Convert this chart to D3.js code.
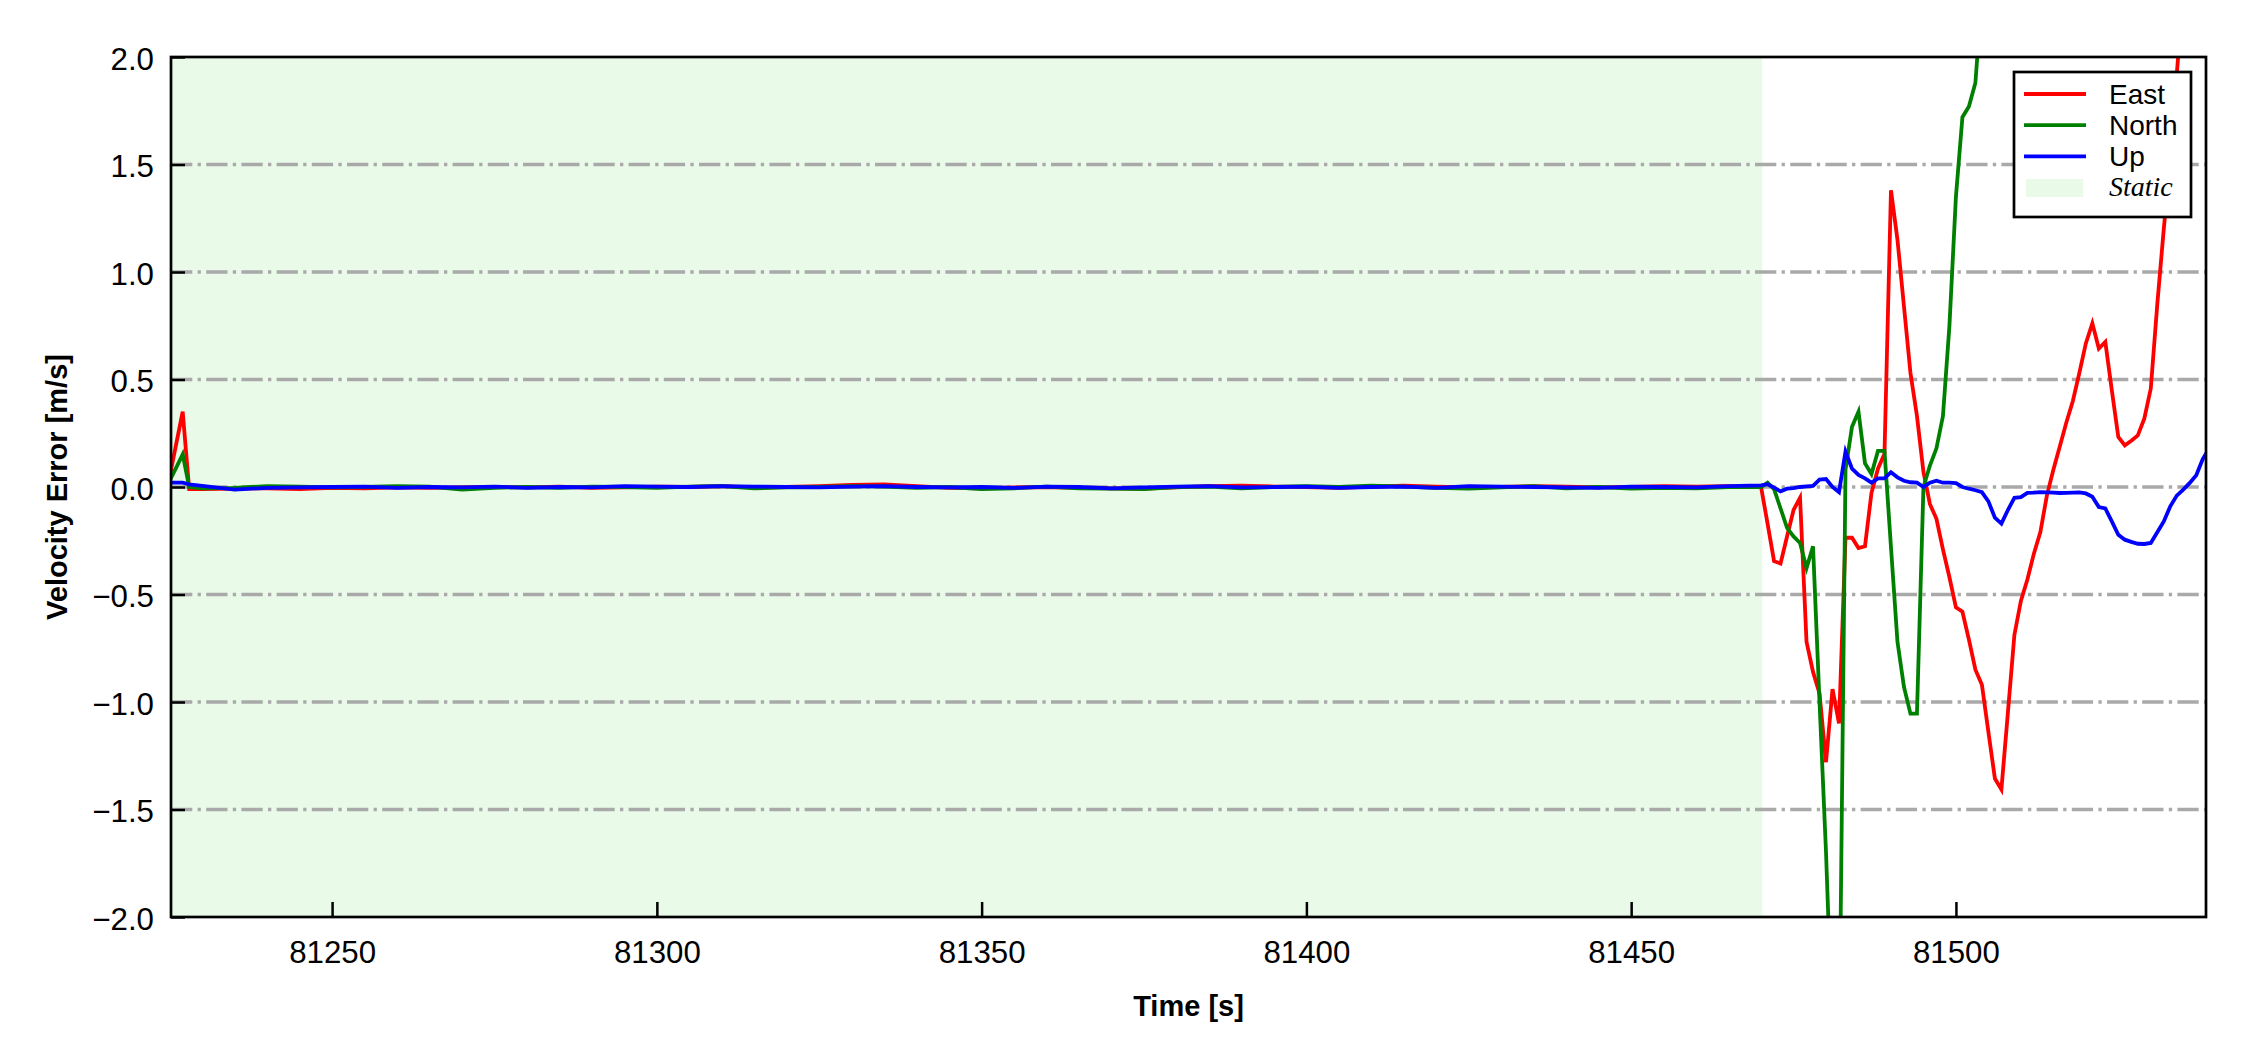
<!DOCTYPE html>
<html>
<head>
<meta charset="utf-8">
<script src="https://cdn.jsdelivr.net/npm/d3@7"></script>
<style>
  body { margin: 0; background: #fff; }
  text { font-family: "Liberation Sans", Arial, sans-serif; }
</style>
</head>
<body>
<div id="chart"></div>
<script>
// sample times [s]: start spike, static part every 5 s, then 1 Hz while moving
var time = [81225, 81226, 81227, 81228,
  81230, 81235, 81240, 81245, 81250, 81255, 81260, 81265, 81270, 81275,
  81280, 81285, 81290, 81295, 81300, 81305, 81310, 81315, 81320, 81325,
  81330, 81335, 81340, 81345, 81350, 81355, 81360, 81365, 81370, 81375,
  81380, 81385, 81390, 81395, 81400, 81405, 81410, 81415, 81420, 81425,
  81430, 81435, 81440, 81445, 81450, 81455, 81460, 81465,
  81470, 81471, 81472, 81473, 81474, 81475, 81476, 81477, 81478, 81479,
  81480, 81481, 81482, 81483, 81484, 81485, 81486, 81487, 81488, 81489,
  81490, 81491, 81492, 81493, 81494, 81495, 81496, 81497, 81498, 81499,
  81500, 81501, 81502, 81503, 81504, 81505, 81506, 81507, 81508, 81509,
  81510, 81511, 81512, 81513, 81514, 81515, 81516, 81517, 81518, 81519,
  81520, 81521, 81522, 81523, 81524, 81525, 81526, 81527, 81528, 81529,
  81530, 81531, 81532, 81533, 81534, 81535, 81536, 81537, 81538, 81539];

var east = [0.05, 0.20, 0.35, -0.01,
  -0.01, -0.008, -0.006, -0.01, -0.004, -0.006, -0.002, -0.004, -0.002, 0.0,
  -0.002, 0.002, -0.004, -0.002, 0.002, 0.0, 0.004, -0.002, 0.0, 0.004,
  0.01, 0.012, 0.004, -0.004, -0.006, -0.002, 0.0, -0.004, -0.006, -0.008,
  -0.002, 0.004, 0.006, 0.002, 0.0, -0.004, 0.002, 0.006, 0.002, -0.002,
  0.0, 0.004, 0.002, -0.002, 0.0, 0.004, 0.002, 0.004,
  0.0, -0.17, -0.345, -0.356, -0.23, -0.107, -0.05, -0.72, -0.86, -0.96,
  -1.28, -0.94, -1.10, -0.236, -0.236, -0.284, -0.276, -0.027, 0.085, 0.155,
  1.38, 1.15, 0.84, 0.53, 0.33, 0.07, -0.08, -0.148, -0.29, -0.42,
  -0.56, -0.58, -0.71, -0.85, -0.92, -1.14, -1.356, -1.407, -1.05, -0.688,
  -0.53, -0.43, -0.31, -0.21, -0.04, 0.08, 0.19, 0.30, 0.40, 0.53,
  0.668, 0.761, 0.644, 0.675, 0.45, 0.233, 0.194, 0.215, 0.24, 0.318,
  0.458, 0.85, 1.2, 1.52, 1.92, 2.3, null, null, null, null];

var north = [0.03, 0.09, 0.152, 0.0,
  -0.006, -0.004, 0.004, 0.002, -0.002, 0.0, 0.004, 0.002, -0.012, -0.004,
  0.0, -0.004, 0.002, 0.0, -0.004, 0.002, 0.004, -0.006, -0.002, 0.0,
  0.004, 0.002, -0.004, 0.0, -0.01, -0.006, 0.002, -0.006, -0.008, -0.01,
  0.0, 0.002, -0.006, 0.0, 0.004, 0.0, 0.006, 0.002, -0.004, -0.008,
  -0.002, 0.004, -0.006, 0.0, -0.008, -0.004, -0.006, 0.0,
  0.0, 0.02, -0.01, -0.10, -0.19, -0.23, -0.26, -0.377, -0.276, -1.0,
  -1.7, -2.56, -2.73, 0.08, 0.28, 0.35, 0.11, 0.06, 0.168, 0.168,
  -0.28, -0.72, -0.93, -1.054, -1.054, 0.0, 0.10, 0.18, 0.33, 0.75,
  1.35, 1.72, 1.77, 1.88, 2.3, null, null, null, null, null,
  null, null, null, null, null, null, null, null, null, null,
  null, null, null, null, null, null, null, null, null, null,
  null, null, null, null, null, null, null, null, null, null];

var up = [0.02, 0.02, 0.02, 0.012,
  0.005, -0.012, -0.004, -0.002, 0.0, 0.002, -0.004, 0.0, -0.002, 0.002,
  -0.004, 0.0, -0.002, 0.004, 0.002, 0.0, 0.004, 0.002, 0.0, -0.002,
  0.002, 0.004, 0.0, -0.002, 0.0, -0.004, 0.002, 0.0, -0.006, -0.002,
  0.002, 0.004, -0.002, 0.0, 0.002, -0.004, 0.0, 0.002, -0.004, 0.004,
  0.002, 0.0, -0.002, -0.004, 0.002, 0.0, -0.002, 0.004,
  0.008, 0.013, -0.003, -0.02, -0.008, -0.005, 0.0, 0.003, 0.005, 0.034,
  0.037, 0.0, -0.024, 0.165, 0.085, 0.056, 0.04, 0.02, 0.04, 0.04,
  0.069, 0.045, 0.029, 0.022, 0.02, 0.0, 0.02, 0.029, 0.02, 0.02,
  0.018, 0.0, -0.008, -0.015, -0.024, -0.067, -0.143, -0.17, -0.107, -0.05,
  -0.047, -0.027, -0.026, -0.024, -0.025, -0.026, -0.028, -0.027, -0.026, -0.025,
  -0.03, -0.045, -0.093, -0.10, -0.16, -0.222, -0.245, -0.255, -0.264, -0.265,
  -0.26, -0.21, -0.16, -0.09, -0.04, -0.012, 0.019, 0.055, 0.13, 0.18];

var seriesNames = ["East", "North", "Up"];
var seriesColors = ["#ff0000", "#008000", "#0000ff"];
var staticSpan = [81225.2, 81470.2];
var xDomain = [81225.2, 81538.5];
var yDomain = [-2.0, 2.0];
var xTicks = [81250, 81300, 81350, 81400, 81450, 81500];
var yTicks = [-2.0, -1.5, -1.0, -0.5, 0.0, 0.5, 1.0, 1.5, 2.0];
var yGrid = [-1.5, -1.0, -0.5, 0.0, 0.5, 1.0, 1.5];

(function () {
	var W = 2250, H = 1050;
	var margin = {top: 57, left: 171, right: 44, bottom: 133},
	width = W - margin.left - margin.right,
	height = H - margin.top - margin.bottom;

	var svg = d3.select("#chart")
		.append("svg")
		.attr("width", W)
		.attr("height", H)
		.style("background", "#fff")
		.append("g")
		.attr("transform", "translate(" + margin.left + "," + margin.top + ")");

	var x = d3.scaleLinear().domain(xDomain).range([0, width]);
	var y = d3.scaleLinear().domain(yDomain).range([height, 0]);

	svg.append("clipPath").attr("id", "plotclip")
		.append("rect").attr("width", width).attr("height", height);

	// static period shading
	svg.append("rect")
		.attr("x", x(staticSpan[0]))
		.attr("y", 0)
		.attr("width", x(staticSpan[1]) - x(staticSpan[0]))
		.attr("height", height)
		.attr("fill", "#e9fae9");

	// dash-dot horizontal grid
	svg.selectAll(".grid")
		.data(yGrid)
		.enter().append("line")
		.attr("class", "grid")
		.attr("x1", 0).attr("x2", width)
		.attr("y1", function (d) { return y(d); })
		.attr("y2", function (d) { return y(d); })
		.attr("stroke", "#a9a9a9")
		.attr("stroke-width", 3.3)
		.attr("stroke-dasharray", "21.3,5.3,3.3,5.3");

	var series = [east, north, up];
	var line = d3.line()
		.defined(function (d) { return d[1] !== null; })
		.x(function (d) { return x(d[0]); })
		.y(function (d) { return y(d[1]); });

	svg.append("g").attr("clip-path", "url(#plotclip)")
		.selectAll(".series")
		.data(series)
		.enter().append("path")
		.attr("class", "series")
		.attr("fill", "none")
		.attr("stroke", function (d, i) { return seriesColors[i]; })
		.attr("stroke-width", 3.8)
		.attr("stroke-linejoin", "miter")
		.attr("d", function (vals) {
			return line(time.map(function (t, j) { return [t, vals[j]]; }));
		});

	function fmt(d) { return d.toFixed(1).replace("-", "\u2212"); }

	var yAxis = svg.append("g")
		.call(d3.axisLeft(y).tickValues(yTicks).tickFormat(fmt).tickSize(-14).tickPadding(17));
	var xAxis = svg.append("g")
		.attr("transform", "translate(0," + height + ")")
		.call(d3.axisBottom(x).tickValues(xTicks).tickFormat(d3.format("d")).tickSize(-15).tickPadding(24));

	[yAxis, xAxis].forEach(function (a) {
		a.select(".domain").remove();
		a.selectAll(".tick line").attr("stroke", "#000").attr("stroke-width", 2.5);
		a.selectAll(".tick text")
			.attr("fill", "#000")
			.style("font-family", "'Liberation Sans', Arial, sans-serif")
			.style("font-size", "31.25px");
	});
	yAxis.selectAll(".tick text").attr("dy", "0.39em");

	// frame
	svg.append("rect")
		.attr("width", width).attr("height", height)
		.attr("fill", "none")
		.attr("stroke", "#000")
		.attr("stroke-width", 2.7);

	svg.append("text")
		.attr("x", width / 2)
		.attr("y", height + 99)
		.attr("text-anchor", "middle")
		.style("font-weight", "bold")
		.style("font-size", "29px")
		.text("Time [s]");

	svg.append("text")
		.attr("transform", "translate(" + (57 - margin.left) + "," + (height / 2) + ") rotate(-90)")
		.attr("text-anchor", "middle")
		.attr("dominant-baseline", "central")
		.style("font-weight", "bold")
		.style("font-size", "29px")
		.text("Velocity Error [m/s]");

	// legend
	var lg = svg.append("g").attr("transform", "translate(" + (width - 192) + ",15)");
	lg.append("rect")
		.attr("width", 177).attr("height", 145)
		.attr("fill", "#fff")
		.attr("stroke", "#000")
		.attr("stroke-width", 2.7);

	seriesNames.forEach(function (name, i) {
		var cy = 22 + i * 31.2;
		lg.append("line")
			.attr("x1", 10).attr("x2", 72)
			.attr("y1", cy).attr("y2", cy)
			.attr("stroke", seriesColors[i])
			.attr("stroke-width", 3.8);
		lg.append("text")
			.attr("x", 95).attr("y", cy + 9.5)
			.style("font-size", "28px")
			.text(name);
	});
	lg.append("rect")
		.attr("x", 12).attr("y", 107)
		.attr("width", 57).attr("height", 18)
		.attr("fill", "#e9fae9");
	lg.append("text")
		.attr("x", 95).attr("y", 124)
		.style("font-family", "'Liberation Serif', 'Times New Roman', serif")
		.style("font-style", "italic")
		.style("font-size", "28px")
		.text("Static");
})();
</script>
</body>
</html>
